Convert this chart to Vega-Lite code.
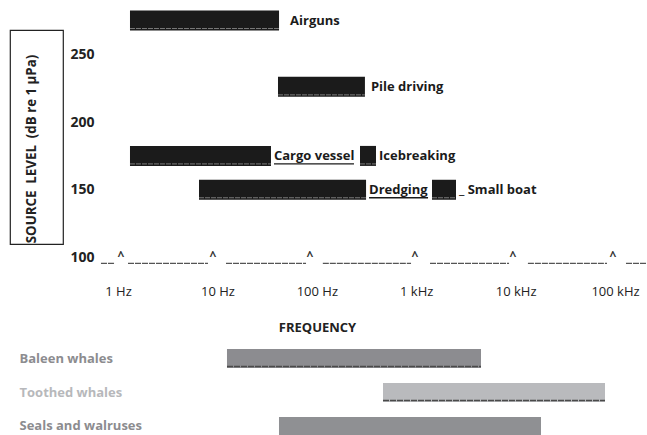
{
  "$schema": "https://vega.github.io/schema/vega-lite/v6.json",
  "padding": {"left": 9, "top": 10, "right": 0, "bottom": 0},
  "background": "white",
  "config": {"view": {"stroke": null}, "font": "Open Sans", "text": {"font": "Open Sans"}},
  "datasets": {
    "sources": [
      {"source": "Airguns", "label": "Airguns", "lo": 1.32, "hi": 41.7, "level": 275},
      {"source": "Pile driving", "label": "Pile driving", "lo": 40.7, "hi": 305, "level": 226},
      {"source": "Cargo vessel", "label": "Cargo vessel", "lo": 1.32, "hi": 34.6, "level": 175},
      {"source": "Icebreaking", "label": "Icebreaking", "lo": 272, "hi": 394, "level": 175},
      {"source": "Dredging", "label": "Dredging", "lo": 6.53, "hi": 313, "level": 150},
      {"source": "Small boat", "label": "_ Small boat", "lo": 1442, "hi": 2514, "level": 150}
    ],
    "axisline": [
      {"lo": 0.674, "hi": 0.933},
      {"lo": 1.26, "hi": 8.04},
      {"lo": 12.2, "hi": 77.9},
      {"lo": 115, "hi": 887},
      {"lo": 1377, "hi": 8590},
      {"lo": 13300, "hi": 83100},
      {"lo": 129000, "hi": 209900}
    ],
    "carets": [
      {"lo": 1.07}, {"lo": 9.03}, {"lo": 85.5}, {"lo": 972}, {"lo": 9420}, {"lo": 95500}
    ],
    "hearing": [
      {"group": "Baleen whales", "lo": 12.2, "hi": 4385},
      {"group": "Toothed whales", "lo": 453, "hi": 77500},
      {"group": "Seals and walruses", "lo": 40.7, "hi": 17600}
    ]
  },
  "spacing": 15,
  "resolve": {"scale": {"x": "independent", "y": "independent"}},
  "vconcat": [
    {
      "spacing": 5,
      "resolve": {"scale": {"x": "independent", "y": "independent"}},
      "hconcat": [
        {
          "width": 53,
          "height": 214,
          "view": {"stroke": "#222222", "strokeWidth": 1.2},
          "data": {"values": [{"t": "SOURCE\u00a0 LEVEL\u00a0 (dB re 1 μPa)"}]},
          "mark": {"type": "text", "angle": 270, "fontWeight": "bold", "fontSize": 13.3, "color": "#222222", "dx": -12, "dy": -4.5},
          "encoding": {"text": {"field": "t", "type": "nominal"}}
        },
        {
          "width": 547,
          "height": 241,
          "layer": [
            {
              "data": {"name": "sources"},
              "mark": {"type": "bar", "size": 20, "color": "#1b1b1b"},
              "encoding": {
                "x": {"field": "lo", "type": "quantitative",
                      "scale": {"type": "log", "domain": [0.659, 209900], "nice": false, "padding": 0},
                      "axis": {"values": [1, 10, 100, 1000, 10000, 100000],
                               "labelExpr": "datum.value >= 1000 ? format(datum.value / 1000, 'd') + ' kHz' : format(datum.value, 'd') + ' Hz'",
                               "domain": false, "ticks": false, "grid": false,
                               "labelFontSize": 13, "labelColor": "#222222", "labelPadding": 14,
                               "title": "FREQUENCY", "titleFontSize": 13, "titleFontWeight": "bold", "titleColor": "#222222",
                               "titlePadding": 23, "titleX": 217, "titleAlign": "center", "titleAnchor": null}},
                "x2": {"field": "hi"},
                "y": {"field": "level", "type": "quantitative",
                      "scale": {"domain": [90, 268], "nice": false, "zero": false, "padding": 0},
                      "axis": {"values": [100, 150, 200, 250], "title": null, "domain": false, "ticks": false, "grid": false,
                               "labelFontSize": 14, "labelFontWeight": "bold", "labelColor": "#222222", "labelPadding": 6}}
              }
            },
            {
              "data": {"name": "sources"},
              "mark": {"type": "rule", "color": "#7a7a7a", "strokeWidth": 1, "strokeDash": [5, 1], "yOffset": 8},
              "encoding": {
                "x": {"field": "lo", "type": "quantitative"},
                "x2": {"field": "hi"},
                "y": {"field": "level", "type": "quantitative"}
              }
            },
            {
              "data": {"name": "sources"},
              "transform": [{"filter": "datum.source === 'Airguns'"}],
              "mark": {"type": "text", "align": "left", "baseline": "middle", "fontWeight": "bold", "fontSize": 13, "color": "#1b1b1b", "dx": 11},
              "encoding": {
                "x": {"field": "hi", "type": "quantitative"},
                "y": {"field": "level", "type": "quantitative"},
                "text": {"field": "label", "type": "nominal"}
              }
            },
            {
              "data": {"name": "sources"},
              "transform": [{"filter": "datum.source === 'Pile driving'"}],
              "mark": {"type": "text", "align": "left", "baseline": "middle", "fontWeight": "bold", "fontSize": 13, "color": "#1b1b1b", "dx": 6},
              "encoding": {
                "x": {"field": "hi", "type": "quantitative"},
                "y": {"field": "level", "type": "quantitative"},
                "text": {"field": "label", "type": "nominal"}
              }
            },
            {
              "data": {"name": "sources"},
              "transform": [{"filter": "datum.source !== 'Airguns' && datum.source !== 'Pile driving'"}],
              "mark": {"type": "text", "align": "left", "baseline": "middle", "fontWeight": "bold", "fontSize": 13, "color": "#1b1b1b", "dx": 3},
              "encoding": {
                "x": {"field": "hi", "type": "quantitative"},
                "y": {"field": "level", "type": "quantitative"},
                "text": {"field": "label", "type": "nominal"}
              }
            },
            {
              "data": {"name": "sources"},
              "transform": [{"filter": "datum.source === 'Cargo vessel'"}],
              "mark": {"type": "rule", "color": "#1b1b1b", "strokeWidth": 1.3, "xOffset": 3, "x2Offset": 83, "yOffset": 8},
              "encoding": {
                "x": {"field": "hi", "type": "quantitative"},
                "x2": {"field": "hi"},
                "y": {"field": "level", "type": "quantitative"}
              }
            },
            {
              "data": {"name": "sources"},
              "transform": [{"filter": "datum.source === 'Dredging'"}],
              "mark": {"type": "rule", "color": "#1b1b1b", "strokeWidth": 1.3, "xOffset": 3, "x2Offset": 62, "yOffset": 8},
              "encoding": {
                "x": {"field": "hi", "type": "quantitative"},
                "x2": {"field": "hi"},
                "y": {"field": "level", "type": "quantitative"}
              }
            },
            {
              "data": {"name": "axisline"},
              "mark": {"type": "rule", "color": "#555555", "strokeWidth": 1.2, "strokeDash": [6, 1], "yOffset": 6},
              "encoding": {
                "x": {"field": "lo", "type": "quantitative"},
                "x2": {"field": "hi"},
                "y": {"datum": 100, "type": "quantitative"}
              }
            },
            {
              "data": {"name": "carets"},
              "mark": {"type": "text", "fontWeight": "bold", "fontSize": 12, "color": "#333333", "baseline": "middle", "dy": -1},
              "encoding": {
                "x": {"field": "lo", "type": "quantitative"},
                "y": {"datum": 100, "type": "quantitative"},
                "text": {"value": "^"}
              }
            }
          ]
        }
      ]
    },
    {
      "width": 638,
      "height": 87,
      "data": {"name": "hearing"},
      "encoding": {
        "x": {"field": "lo", "type": "quantitative", "scale": {"type": "log", "domain": [0.08005, 209900], "nice": false}, "axis": null},
        "x2": {"field": "hi"},
        "y": {"field": "group", "type": "nominal", "sort": null,
              "scale": {"paddingInner": 0.44, "paddingOuter": 0},
              "axis": {"title": null, "domain": false, "ticks": false, "grid": false,
                       "labelAlign": "left", "labelPadding": -9, "labelFontWeight": "bold", "labelFontSize": 13,
                       "labelColor": {"condition": {"test": "datum.value === 'Toothed whales'", "value": "#b7b8bb"}, "value": "#8c8c8f"}}}
      },
      "layer": [
        {
          "mark": {"type": "bar"},
          "encoding": {
            "color": {"field": "group", "type": "nominal",
                      "scale": {"domain": ["Baleen whales", "Toothed whales", "Seals and walruses"], "range": ["#8c8c90", "#b9babd", "#8f9093"]},
                      "legend": null}
          }
        },
        {
          "transform": [{"filter": "datum.group !== 'Seals and walruses'"}],
          "mark": {"type": "rule", "color": "#4a4a4a", "strokeWidth": 1.5, "strokeDash": [6, 1], "yOffset": 8}
        }
      ]
    }
  ]
}
